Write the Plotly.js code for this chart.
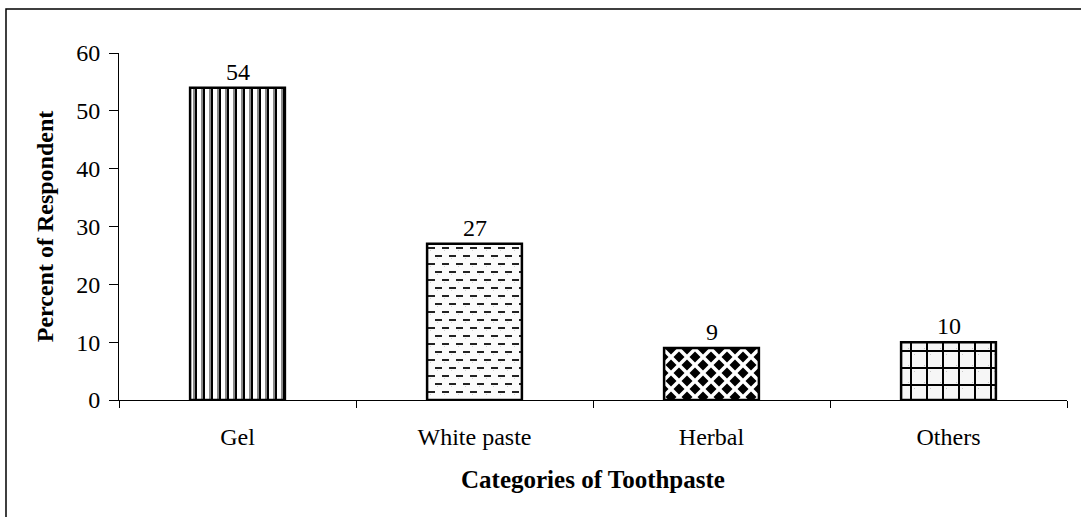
<!DOCTYPE html>
<html>
<head>
<meta charset="utf-8">
<script src="https://cdn.plot.ly/plotly-3.0.1.min.js"></script>
<style>
  html, body { margin: 0; padding: 0; background: #fff; }
  #chart { width: 1081px; height: 517px; }
</style>
</head>
<body>
<div id="chart"></div>
<script>
// Toothpaste categories and share of respondents (%)
const categories = ["Gel", "White paste", "Herbal", "Others"];
const percents = [54, 27, 9, 10];
const fillShapes = ["|", "-", "x", "+"];

const serif = "Liberation Serif, Times New Roman, serif";
const NS = "http://www.w3.org/2000/svg";

const trace = {
  type: "bar",
  x: categories,
  y: percents,
  marker: {
    color: "#ffffff",
    line: { color: "#000000", width: 2.5 },
    pattern: {
      shape: fillShapes,
      fgcolor: "#000000",
      bgcolor: "#ffffff",
      size: [8, 9, 14, 12],
      solidity: [0.3, 0.2, 0.55, 0.18]
    }
  },
  hoverinfo: "none"
};

// Value labels above each bar
const labels = categories.map((c, i) => ({
  x: c, y: percents[i], xref: "x", yref: "y",
  text: String(percents[i]), showarrow: false,
  yanchor: "bottom", yshift: 1,
  font: { family: serif, size: 24, color: "#000" }
}));

const layout = {
  width: 1081, height: 517,
  margin: { l: 119, r: 14, t: 53, b: 117 },
  paper_bgcolor: "#fff", plot_bgcolor: "#fff",
  showlegend: false,
  bargap: 0.6,
  font: { family: serif, color: "#000", size: 24 },
  xaxis: {
    type: "category",
    showline: true, linecolor: "#000", linewidth: 1,
    ticks: "outside", tickson: "boundaries", ticklen: 7, tickcolor: "#000",
    ticklabelstandoff: 15,
    showgrid: false, zeroline: false,
    tickfont: { family: serif, size: 24, color: "#000" },
    title: { text: "<b>Categories of Toothpaste</b>", font: { family: serif, size: 25, color: "#000" }, standoff: 21 }
  },
  yaxis: {
    range: [0, 60], dtick: 10,
    showline: true, linecolor: "#000", linewidth: 1,
    ticks: "outside", ticklen: 9, tickcolor: "#000",
    ticklabelstandoff: 4,
    showgrid: false, zeroline: false,
    tickfont: { family: serif, size: 24, color: "#000" },
    title: { text: "<b>Percent of Respondent</b>", font: { family: serif, size: 24, color: "#000" }, standoff: 15 }
  },
  annotations: labels,
  shapes: [{
    type: "rect", xref: "paper", yref: "paper",
    x0: -0.1192, x1: 1.05, y0: -0.4, y1: 1.1268,
    line: { color: "#000", width: 1.5 }, fillcolor: "rgba(0,0,0,0)"
  }]
};

// Hatch tiles drawn as small SVG patterns, one per category
function el(tag, attrs, parent) {
  const n = document.createElementNS(NS, tag);
  for (const k in attrs) n.setAttribute(k, attrs[k]);
  if (parent) parent.appendChild(n);
  return n;
}

function buildTiles(defs) {
  // vertical bars with a grey shadow edge
  const gel = el("pattern", { id: "tile-gel", patternUnits: "userSpaceOnUse", width: 8, height: 8 }, defs);
  el("rect", { x: 0, y: 0, width: 8, height: 8, fill: "#fff" }, gel);
  el("rect", { x: 2, y: 0, width: 2, height: 8, fill: "#8a8a8a" }, gel);
  el("rect", { x: 4, y: 0, width: 2, height: 8, fill: "#000" }, gel);

  // staggered short dashes on a faint stipple
  const paste = el("pattern", { id: "tile-paste", patternUnits: "userSpaceOnUse", width: 14, height: 16 }, defs);
  el("rect", { x: 0, y: 0, width: 14, height: 16, fill: "#fbfbfb" }, paste);
  el("rect", { x: 3, y: 5, width: 1, height: 1, fill: "#d0d0d0" }, paste);
  el("rect", { x: 10, y: 13, width: 1, height: 1, fill: "#d0d0d0" }, paste);
  el("rect", { x: 1, y: 2, width: 7, height: 2, fill: "#222" }, paste);
  el("rect", { x: 8, y: 10, width: 7, height: 2, fill: "#222" }, paste);
  el("rect", { x: 0, y: 10, width: 1, height: 2, fill: "#222" }, paste);

  // checker of black diamonds
  const herb = el("pattern", { id: "tile-herb", patternUnits: "userSpaceOnUse", width: 16, height: 16 }, defs);
  el("rect", { x: 0, y: 0, width: 16, height: 16, fill: "#fff" }, herb);
  const d = 5.5;
  [[0, 0], [16, 0], [0, 16], [16, 16], [8, 8]].forEach(([cx, cy]) => {
    el("path", { d: `M${cx - d},${cy} L${cx},${cy - d} L${cx + d},${cy} L${cx},${cy + d} Z`, fill: "#000" }, herb);
  });

  // square grid over a light stipple
  const other = el("pattern", { id: "tile-other", patternUnits: "userSpaceOnUse", width: 16, height: 17 }, defs);
  el("rect", { x: 0, y: 0, width: 16, height: 17, fill: "#f6f6f6" }, other);
  el("rect", { x: 5, y: 6, width: 1, height: 1, fill: "#c8c8c8" }, other);
  el("rect", { x: 11, y: 12, width: 1, height: 1, fill: "#c8c8c8" }, other);
  el("rect", { x: 7, y: 0, width: 2, height: 17, fill: "#000" }, other);
  el("rect", { x: 0, y: 8, width: 16, height: 2, fill: "#000" }, other);
}

Plotly.newPlot("chart", [trace], layout, { staticPlot: true, displayModeBar: false }).then(gd => {
  const svg = gd.querySelector(".main-svg");
  let defs = svg.querySelector("defs");
  if (!defs) defs = el("defs", {}, svg);
  buildTiles(defs);
  const ids = ["tile-gel", "tile-paste", "tile-herb", "tile-other"];
  gd.querySelectorAll(".trace.bars .point path").forEach((p, i) => {
    p.style.fill = `url(#${ids[i]})`;
  });
});
</script>
</body>
</html>
